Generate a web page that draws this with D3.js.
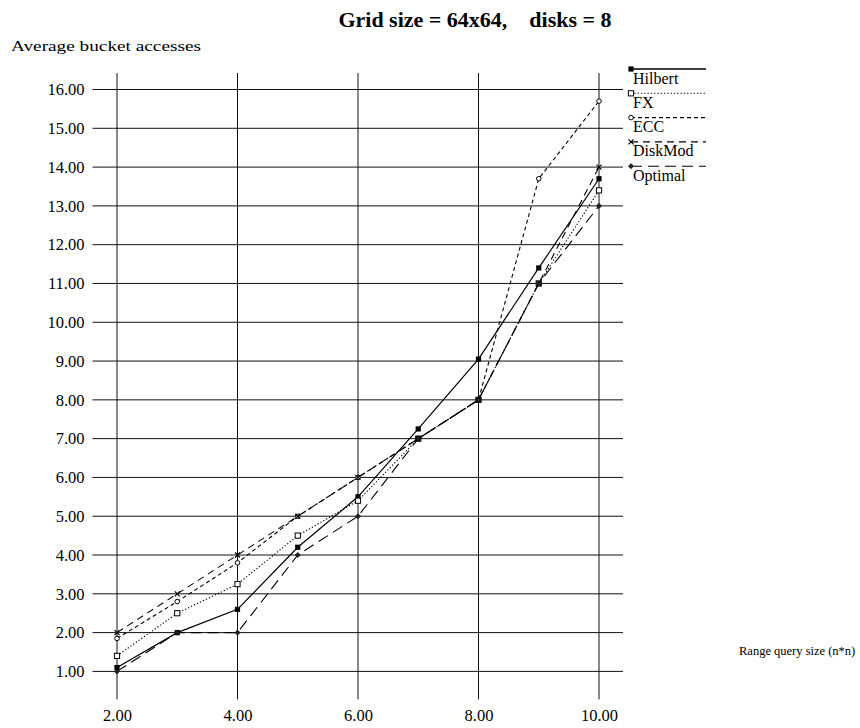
<!DOCTYPE html>
<html>
<head>
<meta charset="utf-8">
<script src="https://cdn.jsdelivr.net/npm/d3@7"></script>
<style>
  html, body { margin: 0; padding: 0; background: #fff; }
  svg { display: block; }
  text { font-family: "Liberation Serif", "Times New Roman", serif; fill: #000; }
</style>
</head>
<body>
<svg id="chart" width="860" height="728"></svg>
<script>
// Range query size (n*n)
const querySizes = [2, 3, 4, 5, 6, 7, 8, 9, 10];

// Average bucket accesses per declustering scheme
const hilbert = [1.1, 2.0, 2.6, 4.2, 5.5, 7.25, 9.05, 11.4, 13.7];
const fx      = [1.4, 2.5, 3.25, 4.5, 5.4, 7.0, 8.0, 11.0, 13.4];
const ecc     = [1.85, 2.8, 3.8, 5.0, 6.0, 7.0, 8.0, 13.7, 15.7];
const diskMod = [2.0, 3.0, 4.0, 5.0, 6.0, 7.0, 8.0, 11.0, 14.0];
const optimal = [1.0, 2.0, 2.0, 4.0, 5.0, 7.0, 8.0, 11.0, 13.0];

const seriesNames = ["Hilbert", "FX", "ECC", "DiskMod", "Optimal"];
const seriesValues = [hilbert, fx, ecc, diskMod, optimal];

// Axis ticks
const xTicks = [2, 4, 6, 8, 10];
const yTicks = d3.range(1, 17);

const title = "Grid size = 64x64,\u00a0\u00a0\u00a0 disks = 8";
const yTitle = "Average bucket accesses";
const xTitle = "Range query size (n*n)";

// ---- drawing ----
const serif = "'Liberation Serif', 'Times New Roman', serif";
const svg = d3.select("#chart");

const x = d3.scaleLinear().domain([2, 10]).range([117, 599]);
const y = d3.scaleLinear().domain([1, 16]).range([671.4, 89.5]);

const gridLeft = x.range()[0] - 24.5, gridRight = x.range()[1] + 24;
const gridTop = y.range()[1] - 16.5, gridBottom = y.range()[0] + 28;

// line styles per series
const styles = {
  "Hilbert": { dash: null,    width: 1.2, marker: "fsquare" },
  "FX":      { dash: "1.3,2", width: 1.1, marker: "osquare" },
  "ECC":     { dash: "4,3",   width: 1.1, marker: "ocircle" },
  "DiskMod": { dash: "7,5",   width: 1.1, marker: "cross" },
  "Optimal": { dash: "11,6",  width: 1.1, marker: "diamond" }
};

// title
svg.append("text")
  .attr("x", 475).attr("y", 27)
  .attr("text-anchor", "middle")
  .style("font-family", serif)
  .style("font-size", "22px").style("font-weight", "bold")
  .text(title);

// y axis title
svg.append("text")
  .attr("x", 11).attr("y", 51)
  .attr("textLength", 190).attr("lengthAdjust", "spacingAndGlyphs")
  .style("font-family", serif)
  .style("font-size", "14px")
  .text(yTitle);

// x axis title
svg.append("text")
  .attr("x", 739).attr("y", 655)
  .style("font-family", serif)
  .style("font-size", "12.5px")
  .text(xTitle);

// grid
const grid = svg.append("g").attr("stroke", "#111").attr("stroke-width", 1);
grid.selectAll("line.h").data(yTicks).join("line")
  .attr("class", "h")
  .attr("x1", gridLeft).attr("x2", gridRight)
  .attr("y1", d => y(d)).attr("y2", d => y(d));
grid.selectAll("line.v").data(xTicks).join("line")
  .attr("class", "v")
  .attr("x1", d => x(d)).attr("x2", d => x(d))
  .attr("y1", gridTop).attr("y2", gridBottom);

// tick labels via d3 axes (domain path and tick lines hidden)
const yAxis = svg.append("g")
  .attr("transform", `translate(${gridLeft - 8},0)`)
  .call(d3.axisLeft(y).tickValues(yTicks).tickFormat(d3.format(".2f")).tickSize(0).tickPadding(0));
yAxis.attr("font-family", serif).attr("font-size", 16.5);
yAxis.select(".domain").remove();
yAxis.selectAll("text")
  .style("font-family", serif)
  .style("font-size", "16.5px");

const xAxis = svg.append("g")
  .attr("transform", `translate(0,${gridBottom + 10})`)
  .call(d3.axisBottom(x).tickValues(xTicks).tickFormat(d3.format(".2f")).tickSize(0).tickPadding(0));
xAxis.attr("font-family", serif).attr("font-size", 16.5);
xAxis.select(".domain").remove();
xAxis.selectAll("text")
  .style("font-family", serif)
  .style("font-size", "16.5px");

// marker drawing
function drawMarker(g, kind, cx, cy) {
  if (kind === "fsquare") {
    g.append("rect").attr("x", cx - 2.6).attr("y", cy - 2.6).attr("width", 5.2).attr("height", 5.2)
      .attr("fill", "#000");
  } else if (kind === "osquare") {
    g.append("rect").attr("x", cx - 2.6).attr("y", cy - 2.6).attr("width", 5.2).attr("height", 5.2)
      .attr("fill", "#fff").attr("stroke", "#000").attr("stroke-width", 1);
  } else if (kind === "ocircle") {
    g.append("circle").attr("cx", cx).attr("cy", cy).attr("r", 2.3)
      .attr("fill", "#fff").attr("stroke", "#000").attr("stroke-width", 1);
  } else if (kind === "cross") {
    g.append("path").attr("d", `M${cx-2.5},${cy-2.5}L${cx+2.5},${cy+2.5}M${cx-2.5},${cy+2.5}L${cx+2.5},${cy-2.5}`)
      .attr("stroke", "#000").attr("stroke-width", 1.2);
  } else if (kind === "diamond") {
    g.append("path").attr("d", `M${cx},${cy-2.6}L${cx+2.6},${cy}L${cx},${cy+2.6}L${cx-2.6},${cy}Z`)
      .attr("fill", "#222").attr("stroke", "#000").attr("stroke-width", 0.6);
  }
}

const line = d3.line().x(d => x(d[0])).y(d => y(d[1]));

// series lines and markers
seriesNames.forEach((name, i) => {
  const st = styles[name];
  const pts = querySizes.map((q, j) => [q, seriesValues[i][j]]);
  const g = svg.append("g").attr("class", "series");
  g.append("path")
    .datum(pts)
    .attr("d", line)
    .attr("fill", "none")
    .attr("stroke", "#000")
    .attr("stroke-width", st.width)
    .attr("stroke-dasharray", st.dash);
  pts.forEach(p => drawMarker(g, st.marker, x(p[0]), y(p[1])));
});

// legend
const legendX1 = 631, legendX2 = 706, legendY0 = 69, legendStep = 24.3;
seriesNames.forEach((name, i) => {
  const st = styles[name];
  const ly = legendY0 + i * legendStep;
  const g = svg.append("g").attr("class", "legend-item");
  g.append("line")
    .attr("x1", legendX1).attr("x2", legendX2)
    .attr("y1", ly).attr("y2", ly)
    .attr("stroke", "#000")
    .attr("stroke-width", i === 0 ? 1.6 : 1.1)
    .attr("stroke-dasharray", st.dash);
  drawMarker(g, st.marker, legendX1, ly);
  g.append("text")
    .attr("x", legendX1 + 2).attr("y", ly + 14.5)
    .style("font-family", serif)
    .style("font-size", "16px")
    .text(name);
});
</script>
</body>
</html>
